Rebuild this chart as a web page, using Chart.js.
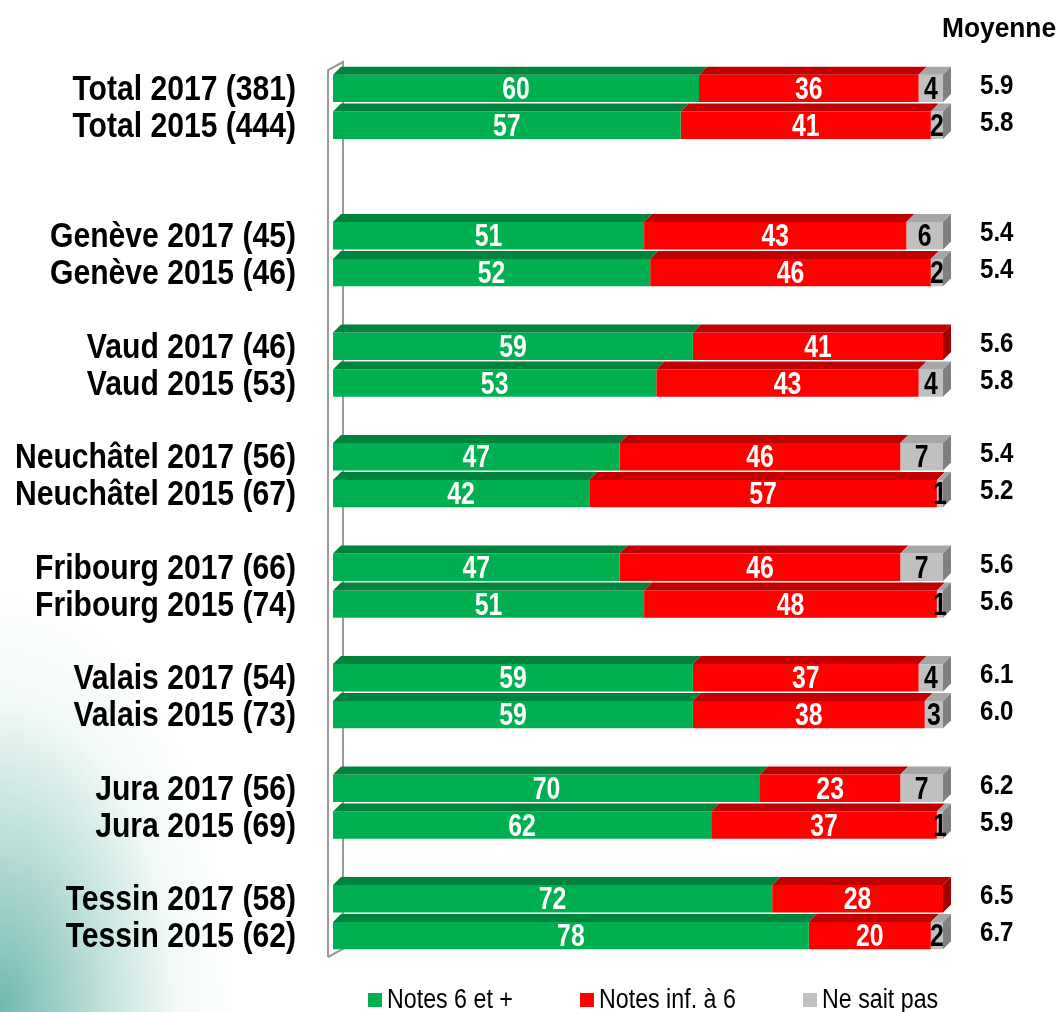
<!DOCTYPE html>
<html>
<head>
<meta charset="utf-8">
<script src="https://cdn.jsdelivr.net/npm/chart.js@4"></script>
<style>
  html, body { margin: 0; padding: 0; }
  body {
    width: 1057px; height: 1012px; overflow: hidden;
    background: radial-gradient(ellipse 240px 430px at 0% 100%, rgba(105,180,172,0.95) 0%, rgba(150,205,195,0.65) 40%, rgba(215,238,232,0.35) 72%, rgba(255,255,255,0) 100%), #fff;
  }
</style>
</head>
<body>
<canvas id="myChart" width="1057" height="1012"></canvas>
<script>
// categories ('' = empty slot between groups)
let categories = [
  'Total 2017 (381)', 'Total 2015 (444)', '', '',
  'Genève 2017 (45)', 'Genève 2015 (46)', '',
  'Vaud 2017 (46)', 'Vaud 2015 (53)', '',
  'Neuchâtel 2017 (56)', 'Neuchâtel 2015 (67)', '',
  'Fribourg 2017 (66)', 'Fribourg 2015 (74)', '',
  'Valais 2017 (54)', 'Valais 2015 (73)', '',
  'Jura 2017 (56)', 'Jura 2015 (69)', '',
  'Tessin 2017 (58)', 'Tessin 2015 (62)'
];
let notesPlus  = [60, 57, null, null, 51, 52, null, 59, 53, null, 47, 42, null, 47, 51, null, 59, 59, null, 70, 62, null, 72, 78];
let notesInf   = [36, 41, null, null, 43, 46, null, 41, 43, null, 46, 57, null, 46, 48, null, 37, 38, null, 23, 37, null, 28, 20];
let neSaitPas  = [4, 2, null, null, 6, 2, null, 0, 4, null, 7, 1, null, 7, 1, null, 4, 3, null, 7, 1, null, 0, 2];
let moyenne    = [5.9, 5.8, null, null, 5.4, 5.4, null, 5.6, 5.8, null, 5.4, 5.2, null, 5.6, 5.6, null, 6.1, 6.0, null, 6.2, 5.9, null, 6.5, 6.7];
let seriesNames = ['Notes 6 et +', 'Notes inf. à 6', 'Ne sait pas'];

let fontFam = "'Liberation Sans', Arial, sans-serif";
let faceColors = ['#00B050', '#FF0000', '#C0C0C0'];
let topColors  = ['#00843C', '#C00000', '#A6A6A6'];
let sideColors = ['#00703A', '#A00000', '#808080'];
let depth = 8;

// text squeezed horizontally (narrow look)
function narrowText(ctx, text, x, y, align, sx) {
  ctx.save();
  ctx.translate(x, y);
  ctx.scale(sx, 1);
  ctx.textAlign = align;
  ctx.fillText(text, 0, 0);
  ctx.restore();
}

// wall on the left + 3D top / side faces of bars
const bar3d = {
  id: 'bar3d',
  beforeDatasetsDraw(chart) {
    let ctx = chart.ctx;
    let a = chart.chartArea;
    ctx.save();
    ctx.strokeStyle = '#9a9a9a';
    ctx.lineWidth = 2;
    ctx.beginPath();
    ctx.moveTo(a.left - 5, a.bottom + 3);
    ctx.lineTo(a.left - 5, a.top);
    ctx.lineTo(a.left + 10, a.top - 8);
    ctx.lineTo(a.left + 10, a.bottom - 5);
    ctx.lineTo(a.left - 5, a.bottom + 3);
    ctx.stroke();
    ctx.restore();
  },
  afterDatasetsDraw(chart) {
    let ctx = chart.ctx;
    ctx.save();
    for (let i = 0; i < categories.length; i++) {
      let last = -1;
      for (let d = 0; d < 3; d++) {
        let v = chart.data.datasets[d].data[i];
        if (!v) continue;
        last = d;
        let el = chart.getDatasetMeta(d).data[i];
        let x0 = el.base, x1 = el.x, top = el.y - el.height / 2;
        ctx.fillStyle = topColors[d];
        ctx.beginPath();
        ctx.moveTo(x0, top);
        ctx.lineTo(x0 + depth, top - depth);
        ctx.lineTo(x1 + depth, top - depth);
        ctx.lineTo(x1, top);
        ctx.closePath();
        ctx.fill();
      }
      if (last >= 0) {
        let el = chart.getDatasetMeta(last).data[i];
        let x1 = el.x, top = el.y - el.height / 2, bottom = el.y + el.height / 2;
        ctx.fillStyle = sideColors[last];
        ctx.beginPath();
        ctx.moveTo(x1, top);
        ctx.lineTo(x1 + depth, top - depth);
        ctx.lineTo(x1 + depth, bottom - depth);
        ctx.lineTo(x1, bottom);
        ctx.closePath();
        ctx.fill();
      }
    }
    ctx.restore();
  }
};

// category labels, value labels, Moyenne column, legend
const labelsPlugin = {
  id: 'labelsPlugin',
  afterDraw(chart) {
    let ctx = chart.ctx;
    let a = chart.chartArea;
    let yScale = chart.scales.y;
    ctx.save();
    ctx.textBaseline = 'middle';
    ctx.fillStyle = '#000';

    // category labels
    ctx.font = 'bold 35px ' + fontFam;
    categories.forEach(function(c, i) {
      if (!c) return;
      narrowText(ctx, c, a.left - 37, yScale.getPixelForTick(i) + 2, 'right', 0.86);
    });

    // bar values
    ctx.font = 'bold 31px ' + fontFam;
    for (let d = 0; d < 3; d++) {
      let meta = chart.getDatasetMeta(d);
      meta.data.forEach(function(el, i) {
        let v = chart.data.datasets[d].data[i];
        if (!v) return;
        ctx.fillStyle = d === 2 ? '#000' : '#fff';
        narrowText(ctx, String(v), (el.x + el.base) / 2, el.y + 2, 'center', 0.8);
      });
    }

    // Moyenne
    ctx.fillStyle = '#000';
    ctx.font = 'bold 28px ' + fontFam;
    moyenne.forEach(function(m, i) {
      if (m === null) return;
      narrowText(ctx, m.toFixed(1), a.right + 37, yScale.getPixelForTick(i) - 2, 'left', 0.86);
    });
    narrowText(ctx, 'Moyenne', a.right - 1, 29, 'left', 0.94);

    // legend
    ctx.font = '27px ' + fontFam;
    let lx = [368, 580, 803];
    chart.data.datasets.forEach(function(ds, d) {
      ctx.fillStyle = ds.backgroundColor;
      ctx.fillRect(lx[d], 993, 14, 14);
      ctx.fillStyle = '#000';
      narrowText(ctx, ds.label, lx[d] + 19, 1001, 'left', 0.86);
    });
    ctx.restore();
  }
};

let ctx = document.getElementById('myChart').getContext('2d');
let myChart = new Chart(ctx, {
  type: 'bar',
  data: {
    labels: categories,
    datasets: [notesPlus, notesInf, neSaitPas].map(function(arr, d) {
      return {
        label: seriesNames[d],
        data: arr,
        backgroundColor: faceColors[d],
        borderWidth: 0,
        barPercentage: 0.74,
        categoryPercentage: 1
      };
    })
  },
  options: {
    indexAxis: 'y',
    responsive: false,
    animation: false,
    layout: { padding: { top: 70, right: 114, bottom: 58, left: 0 } },
    scales: {
      x: { stacked: true, min: 0, max: 100, display: false },
      y: {
        stacked: true,
        grid: { display: false },
        border: { display: false },
        ticks: { display: false, autoSkip: false },
        afterFit: function(scale) { scale.width = 333; }
      }
    },
    plugins: {
      legend: { display: false },
      tooltip: { enabled: false }
    }
  },
  plugins: [bar3d, labelsPlugin]
});
</script>
</body>
</html>
